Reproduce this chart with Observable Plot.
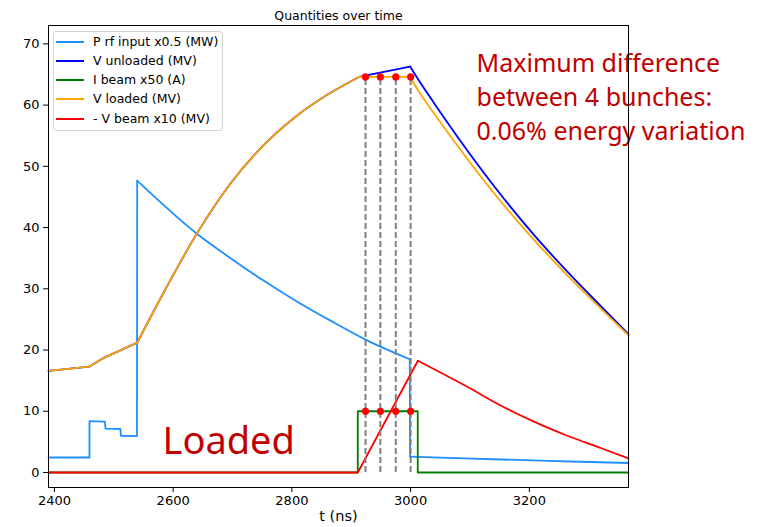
<!DOCTYPE html>
<html><head><meta charset="utf-8">
<script src="https://cdn.jsdelivr.net/npm/d3@7"></script>
<script src="https://cdn.jsdelivr.net/npm/@observablehq/plot@0.6"></script>
<style>
body{margin:0;background:#fff;}
#wrap{position:relative;width:757px;height:527px;font-family:"DejaVu Sans",sans-serif;}
#legend{position:absolute;left:53px;top:31px;width:170px;height:100px;border:1px solid #d4d4d4;border-radius:3px;background:rgba(255,255,255,0.8);box-sizing:border-box;}
.li{position:absolute;left:2px;width:28px;height:0;}
.lt{position:absolute;left:39px;font-size:12.5px;line-height:16px;white-space:nowrap;color:#000;}
</style></head><body><div id="wrap"><div id="legend"></div></div>
<script>
const title = "Quantities over time";
const xLabel = "t (ns)";
const xTicks = [2400, 2600, 2800, 3000, 3200];
const yTicks = [0, 10, 20, 30, 40, 50, 60, 70];
const legendLabels = ["P rf input x0.5 (MW)", "V unloaded (MV)", "I beam x50 (A)", "V loaded (MV)", "- V beam x10 (MV)"];
const legendColors = ["#1e90ff", "#0000ff", "#008000", "#ffa500", "#ff0000"];
const annotText = "Maximum difference\nbetween 4 bunches:\n0.06% energy variation";
const loadedText = "Loaded";

// P rf input x0.5 (MW)  [t (ns), value]
const prfSteps = [[2390,2.45],[2459,2.45],[2459,8.4],[2485,8.3],[2486,7.15],[2511,7.1],[2512,6.0],[2539,5.95],[2539.4,47.66]];
const prfDecay = [[2539.4,47.66],[2640.5,38.95],[2696.6,35.0],[2752.8,31.3],[2809,27.9],[2865,24.8],[2924,21.7],[2998.5,18.5]];
const prfDrop = [[2998.5,18.5],[2999,2.6]];
const prfTail = [[2999,2.6],[3090,2.3],[3180,2.05],[3270,1.8],[3367,1.55]];

// V unloaded (MV)
const vPre = [[2390,16.6],[2459,17.3]];
const vRise1 = [[2459,17.3],[2485,18.8],[2511,19.95],[2539.4,21.2]];
const vRise2 = [[2539.4,21.2],[2584,29.4],[2640.5,39.1],[2696.6,47.2],[2752.8,53.5],[2809,58.3],[2865,62.0],[2913,64.6]];
const vuFlat = [[2913,64.6],[2999,66.3]];
const vuDecay = [[2999,66.3],[3012,64.3],[3039,60.4],[3095.5,52.6],[3151.6,45.4],[3207.7,38.8],[3264,32.8],[3320,27.2],[3367,22.6]];

// I beam x50 (A)
const iBeam = [[2390,0],[2911,0],[2911,10],[3012,10],[3012,0],[3367,0]];

// V loaded (MV) (same as unloaded before the beam)
const vlFlat = [[2913,64.6],[2999,64.6]];
const vlDecay = [[2999,64.6],[3012,62.5],[3039,58.7],[3095.5,51.2],[3151.6,44.3],[3207.7,38.0],[3264,32.2],[3320,26.8],[3367,22.4]];

// - V beam x10 (MV)
const vbRamp = [[2390,0],[2911,0],[3012.2,18.25]];
const vbDecay = [[3012.2,18.25],[3039,16.9],[3095.5,14.0],[3151.6,10.95],[3207.7,8.3],[3264,6.0],[3320,4.0],[3367,2.3]];

// bunch times and markers
const bunchT = [2924, 2949, 2975, 3000];
const bunchV = [64.6, 64.6, 64.6, 64.6];
const bunchI = [10, 10, 10, 10];

const X = d => d[0], Y = d => d[1];
const lw = 1.8;
const lin = (data, color) => Plot.line(data, {x: X, y: Y, stroke: color, strokeWidth: lw, curve: "linear"});
const smo = (data, color) => Plot.line(data, {x: X, y: Y, stroke: color, strokeWidth: lw, curve: "monotone-x"});
const [cP, cVU, cI, cVL, cVB] = legendColors;

const dotsV = bunchT.map((t, i) => [t, bunchV[i]]);
const dotsI = bunchT.map((t, i) => [t, bunchI[i]]);

const chart = Plot.plot({
  width: 757, height: 527,
  marginTop: 25, marginBottom: 40, marginLeft: 48, marginRight: 129,
  x: {domain: [2390, 3367]},
  y: {domain: [-2.45, 73]},
  style: {fontFamily: "DejaVu Sans", fontSize: "12px", background: "white", overflow: "visible"},
  marks: [
    lin(prfSteps, cP), smo(prfDecay, cP), lin(prfDrop, cP), smo(prfTail, cP),
    lin(vPre, cVU), smo(vRise1, cVU), smo(vRise2, cVU), lin(vuFlat, cVU), smo(vuDecay, cVU),
    lin(iBeam, cI),
    lin(vPre, cVL), smo(vRise1, cVL), smo(vRise2, cVL), lin(vlFlat, cVL), smo(vlDecay, cVL),
    lin(vbRamp, cVB), smo(vbDecay, cVB),
    Plot.ruleX(dotsV, {x: X, y1: () => 0, y2: Y, stroke: "#808080", strokeWidth: 2, strokeDasharray: "6,3"}),
    Plot.dot(dotsV, {x: X, y: Y, r: 3.6, fill: "#ff0000", stroke: "none"}),
    Plot.dot(dotsI, {x: X, y: Y, r: 3.6, fill: "#ff0000", stroke: "none"}),
    Plot.text([annotText], {x: () => 3111, y: () => 69.4, text: d => d, textAnchor: "start", lineAnchor: "top", lineHeight: 1.36, fontSize: 25, fontFamily: "Noto Sans", fill: "#c00000"}),
    Plot.text([loadedText], {x: () => 2582, y: () => 7.4, text: d => d, textAnchor: "start", lineAnchor: "top", fontSize: 38, fontFamily: "Noto Sans", fill: "#c00000"}),
    Plot.frame({stroke: "black", strokeWidth: 1}),
    Plot.axisX({ticks: xTicks, tickFormat: d => String(d), tickSize: 5, tickPadding: 3, label: null, fontSize: 13}),
    Plot.axisY({ticks: yTicks, tickFormat: d => String(d), tickSize: 5, tickPadding: 4, label: null, fontSize: 13}),
    Plot.text([title], {frameAnchor: "top", dy: -14, text: d => d, fontSize: 12.5, fill: "black"}),
    Plot.text([xLabel], {frameAnchor: "bottom", dy: 33, text: d => d, fontSize: 14.5, fill: "black"})
  ]
});
const wrap = document.getElementById("wrap");
wrap.insertBefore(chart, wrap.firstChild);

const legend = document.getElementById("legend");
const rowCenters = [9.5, 28.8, 48.1, 67.4, 86.7];
legendLabels.forEach((lab, i) => {
  const ln = document.createElement("div");
  ln.className = "li";
  ln.style.top = (rowCenters[i] - 1) + "px";
  ln.style.borderTop = "2px solid " + legendColors[i];
  legend.appendChild(ln);
  const tx = document.createElement("div");
  tx.className = "lt";
  tx.style.top = (rowCenters[i] - 8) + "px";
  tx.textContent = lab;
  legend.appendChild(tx);
});
</script></body></html>
